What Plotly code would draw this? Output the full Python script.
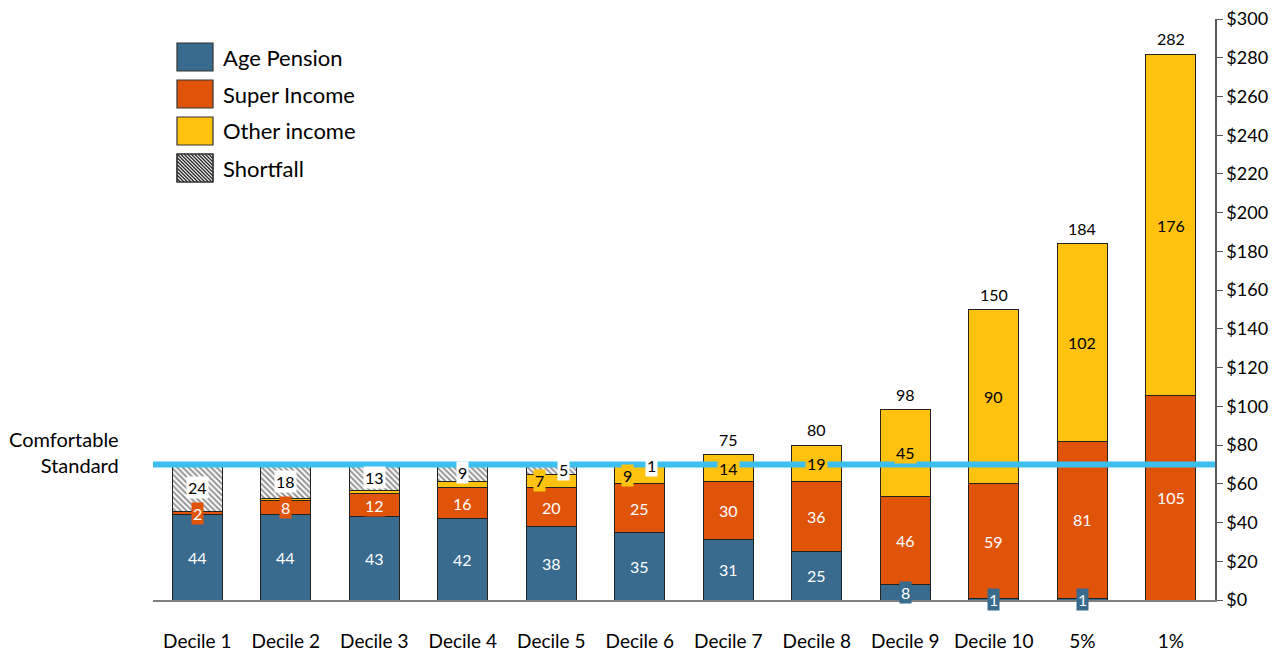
import plotly.graph_objects as go

categories = ["Decile 1", "Decile 2", "Decile 3", "Decile 4", "Decile 5", "Decile 6",
              "Decile 7", "Decile 8", "Decile 9", "Decile 10", "5%", "1%"]
age_pension = [44, 44, 43.2, 42, 38, 35, 31, 25, 7.8, 0.9, 0.9, 0]
super_income = [1.8, 7.6, 11.6, 16, 20, 25, 30, 36, 45.9, 59, 81, 105.4]
other_income = [0, 0.6, 1.8, 3.4, 7, 9, 14, 19, 44.6, 90, 102, 176.4]
shortfall = [24.2, 17.8, 13.4, 8.6, 5, 1, 0, 0, 0, 0, 0, 0]
comfortable_standard = 70
y_ticks = list(range(0, 301, 20))

FONT = "Lato"
C_PEN = "#386B8D"
C_SUP = "#E0540A"
C_OTH = "#FFC20F"
C_LINE = "#3CBFEE"
HATCH_FG = "#2a2a2a"

# figure geometry (page body has an 8px margin)
W, H = 1271, 643
ML, MR, MT, MB = 145, 64, 11, 51
PW, PH = W - ML - MR, H - MT - MB


def px_x(px):
    return (px - ML) / PW


def px_y(py):
    return (H - MB - py) / PH


x = list(range(len(categories)))
fig = go.Figure()

series = [
    ("Age Pension", age_pension, dict(color=C_PEN), "white", C_PEN, 0.5),
    ("Super Income", super_income, dict(color=C_SUP), "white", C_SUP, 0.5),
    ("Other income", other_income, dict(color=C_OTH), "black", C_OTH, 5),
    ("Shortfall", shortfall,
     dict(color="white", pattern=dict(shape="\\", fgcolor=HATCH_FG, bgcolor="white",
                                      size=4, solidity=0.5)), "black", "white", 0.5),
]

# labels of thin neighbouring segments are nudged sideways (as in the original)
crowded = [other_income[i] >= 5 and 0 < shortfall[i] < 6 for i in x]

bases = [0.0] * len(categories)
annotations = []
shapes = []
for name, vals, mk, tcol, bg, thr in series:
    mk = dict(mk)
    mk["line"] = dict(color="#222222", width=1)
    fig.add_trace(go.Bar(name=name, x=x, y=vals, marker=mk, width=0.565,
                         hoverinfo="skip", showlegend=False))
    for i, v in enumerate(vals):
        if v >= thr:
            xs = 0
            if crowded[i] and name == "Other income":
                xs = -12
            elif crowded[i] and name == "Shortfall":
                xs = 12
            annotations.append(dict(
                x=i, y=bases[i] + v / 2, xref="x", yref="y", text=f"{v:.0f}",
                showarrow=False, bgcolor=bg, borderpad=1, xshift=xs,
                font=dict(family=FONT, size=16, color=tcol)))
        bases[i] += v

# totals above bars without shortfall
for i in x:
    if shortfall[i] == 0:
        total = age_pension[i] + super_income[i] + other_income[i]
        annotations.append(dict(
            x=i, y=total, xref="x", yref="y", text=f"{total:.0f}", showarrow=False,
            yanchor="bottom", yshift=4, font=dict(family=FONT, size=16, color="black")))

# comfortable standard line
fig.add_trace(go.Scatter(x=[-0.5, 11.5], y=[comfortable_standard] * 2, mode="lines",
                         line=dict(color=C_LINE, width=6), showlegend=False,
                         hoverinfo="skip"))
fig.add_trace(go.Scatter(x=[-0.68], y=[comfortable_standard], mode="markers",
                         marker=dict(symbol="triangle-right", size=17, color="black"),
                         cliponaxis=False, showlegend=False, hoverinfo="skip"))
annotations.append(dict(
    x=px_x(113), xref="paper", y=comfortable_standard, yref="y", xanchor="right",
    yanchor="middle", yshift=12, align="right", showarrow=False,
    text="Comfortable<br>Standard", font=dict(family=FONT, size=20, color="black")))

# custom legend (large swatches)
LX, LY, SW, SH, STEP = 169, 35, 36, 28, 37
for k, (name, vals, mk, tcol, bg, thr) in enumerate(series):
    top = LY + k * STEP
    fill = mk["color"]
    shapes.append(dict(type="rect", xref="paper", yref="paper",
                       x0=px_x(LX), x1=px_x(LX + SW), y0=px_y(top + SH), y1=px_y(top),
                       fillcolor=fill, line=dict(color="#333333", width=1.2), layer="above"))
    if "pattern" in mk:
        sp = 3.5
        c = -SH
        while c < SW:
            ya = max(0, -c)
            yb = min(SH, SW - c)
            if yb > ya:
                shapes.append(dict(type="line", xref="paper", yref="paper",
                                   x0=px_x(LX + ya + c), y0=px_y(top + ya),
                                   x1=px_x(LX + yb + c), y1=px_y(top + yb),
                                   line=dict(color=HATCH_FG, width=1.4), layer="above"))
            c += sp
        shapes.append(dict(type="rect", xref="paper", yref="paper",
                           x0=px_x(LX), x1=px_x(LX + SW), y0=px_y(top + SH), y1=px_y(top),
                           line=dict(color="#333333", width=1.2), layer="above"))
    annotations.append(dict(
        x=px_x(LX + SW + 8), y=px_y(top + SH / 2), xref="paper", yref="paper",
        xanchor="left", yanchor="middle", showarrow=False, text=name,
        font=dict(family=FONT, size=22, color="black")))

fig.update_layout(
    barmode="stack",
    width=W, height=H,
    margin=dict(l=ML, r=MR, t=MT, b=MB),
    paper_bgcolor="white", plot_bgcolor="white",
    font=dict(family=FONT, size=16, color="black"),
    showlegend=False,
    annotations=annotations,
    shapes=shapes,
    xaxis=dict(range=[-0.5, 11.5], tickvals=x, ticktext=categories, showline=True,
               linecolor="#7f7f7f", linewidth=1.5, ticks="", showgrid=False,
               zeroline=False, ticklabelstandoff=23, automargin=False,
               ticklabeloverflow="allow",
               tickfont=dict(family=FONT, size=19, color="black")),
    yaxis=dict(range=[0, 300], side="right", tickvals=y_ticks,
               ticktext=[f"${v}" for v in y_ticks], showline=True,
               linecolor="#595959", linewidth=1.5, ticks="outside", ticklen=6,
               tickcolor="#595959", showgrid=False, zeroline=False, automargin=False,
               ticklabeloverflow="allow",
               tickfont=dict(family=FONT, size=18, color="black")),
)

fig.write_html("out.html")
